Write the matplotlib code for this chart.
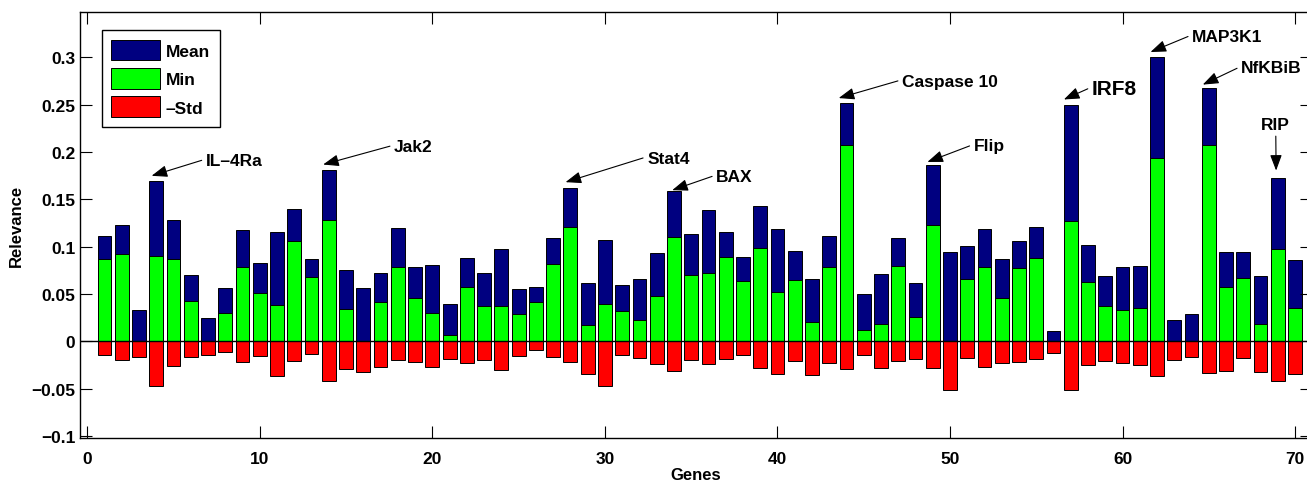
import numpy as np
import matplotlib
matplotlib.use('Agg')
import matplotlib.pyplot as plt
from matplotlib.ticker import FuncFormatter

# relevance per gene
genes = np.arange(1, 71)
mean_rel = [0.1116, 0.1232, 0.0331, 0.1687, 0.1278, 0.0701, 0.0246, 0.0563, 0.1173, 0.0831,
            0.1158, 0.1401, 0.0873, 0.1806, 0.0754, 0.0563, 0.0725, 0.1200, 0.0789, 0.0806,
            0.0394, 0.0884, 0.0722, 0.0979, 0.0553, 0.0577, 0.1088, 0.1613, 0.0616, 0.1074,
            0.0595, 0.0658, 0.0937, 0.1585, 0.1137, 0.1391, 0.1158, 0.0894, 0.1433, 0.1183,
            0.0958, 0.0662, 0.1116, 0.2518, 0.0500, 0.0711, 0.1095, 0.0616, 0.1863, 0.0944,
            0.1011, 0.1183, 0.0873, 0.1063, 0.1211, 0.0109, 0.2493, 0.1021, 0.0694, 0.0789,
            0.0799, 0.3004, 0.0225, 0.0292, 0.2676, 0.0944, 0.0944, 0.0694, 0.1722, 0.0863]
min_rel = [0.0870, 0.0919, 0.0, 0.0901, 0.0870, 0.0423, 0.0, 0.0299, 0.0785, 0.0507,
           0.0380, 0.1060, 0.0680, 0.1285, 0.0345, 0.0, 0.0412, 0.0785, 0.0454, 0.0296,
           0.0070, 0.0570, 0.0370, 0.0370, 0.0285, 0.0412, 0.0817, 0.1208, 0.0176, 0.0391,
           0.0317, 0.0222, 0.0475, 0.1102, 0.0697, 0.0718, 0.0891, 0.0634, 0.0986, 0.0518,
           0.0644, 0.0201, 0.0785, 0.2070, 0.0123, 0.0180, 0.0796, 0.0254, 0.1229, 0.0,
           0.0655, 0.0785, 0.0454, 0.0775, 0.0880, 0.0, 0.1271, 0.0623, 0.0370, 0.0327,
           0.0356, 0.1930, 0.0, 0.0, 0.2070, 0.0570, 0.0665, 0.0180, 0.0975, 0.0349]
std_rel = [0.0148, 0.0201, 0.0169, 0.0475, 0.0264, 0.0169, 0.0148, 0.0116, 0.0222, 0.0158,
           0.0370, 0.0211, 0.0137, 0.0423, 0.0296, 0.0327, 0.0275, 0.0201, 0.0222, 0.0275,
           0.0190, 0.0232, 0.0201, 0.0306, 0.0158, 0.0095, 0.0169, 0.0222, 0.0349, 0.0475,
           0.0148, 0.0180, 0.0243, 0.0317, 0.0201, 0.0243, 0.0190, 0.0148, 0.0285, 0.0349,
           0.0211, 0.0359, 0.0232, 0.0296, 0.0148, 0.0285, 0.0211, 0.0190, 0.0285, 0.0518,
           0.0180, 0.0275, 0.0232, 0.0222, 0.0190, 0.0127, 0.0518, 0.0254, 0.0211, 0.0232,
           0.0254, 0.0370, 0.0201, 0.0169, 0.0338, 0.0317, 0.0180, 0.0327, 0.0423, 0.0349]

series_names = ['Mean', 'Min', '\u2013Std']

marked_genes = [4, 14, 28, 34, 44, 49, 57, 62, 65, 69]
marked_names = ['IL\u20134Ra', 'Jak2', 'Stat4', 'BAX', 'Caspase 10', 'Flip', 'IRF8',
                'MAP3K1', 'NfKBiB', 'RIP']

# label placement (data coords) and arrow tip offsets from the bar top
text_pos = [(6.87, 0.1908), (17.78, 0.2056), (32.45, 0.1933), (36.45, 0.174),
            (47.22, 0.2746), (51.37, 0.2063), (58.22, 0.2665), (64.03, 0.322),
            (66.87, 0.2887), (68.88, 0.2289)]
tip_off = [(-0.27, 0.006), (-0.33, 0.006), (-0.28, 0.0067), (-0.1, 0.001),
           (-0.45, 0.005), (-0.31, 0.003), (-0.4, 0.006), (-0.38, 0.005),
           (-0.35, 0.0034), (-0.1, 0.008)]


def main():
    plt.rcParams['font.family'] = ['Liberation Sans', 'DejaVu Sans']
    plt.rcParams['font.weight'] = 'bold'
    plt.rcParams['axes.labelweight'] = 'bold'

    fig = plt.figure(figsize=(13.07, 4.85), dpi=100)
    ax = fig.add_axes([80 / 1307, 45.7 / 485, 1232 / 1307, 426.6 / 485])

    kw = dict(width=0.8, edgecolor='black', linewidth=0.7)
    ax.bar(genes, mean_rel, color='#000080', label=series_names[0], **kw)
    ax.bar(genes, min_rel, color='#00ff00', label=series_names[1], **kw)
    ax.bar(genes, -np.array(std_rel), color='#ff0000', label=series_names[2], **kw)
    ax.axhline(0, color='black', linewidth=1.0)

    ax.set_xlim(-0.42, 70.98)
    ax.set_ylim(-0.1025, 0.348)
    ax.set_xticks(np.arange(0, 71, 10))
    ax.set_yticks(np.arange(-0.1, 0.31, 0.05))
    ax.yaxis.set_major_formatter(FuncFormatter(
        lambda v, p: ('%g' % round(v, 3)).replace('-', '\u2212')))
    ax.tick_params(direction='in', length=8.4, width=0.8, top=True, right=True,
                   labelsize=12.5)
    ax.tick_params(axis='x', pad=9)
    ax.tick_params(axis='y', pad=3.5)
    for s in ax.spines.values():
        s.set_linewidth(1.0)

    ax.set_xlabel('Genes', fontsize=12, labelpad=1)
    ax.set_ylabel('Relevance', fontsize=12, labelpad=5)

    for g, name, (tx, ty), (dx, dy) in zip(marked_genes, marked_names, text_pos, tip_off):
        top = mean_rel[g - 1]
        if name == 'RIP':
            ha, rel = 'center', (0.5, 0.0)
        else:
            ha, rel = 'left', (0.0, 0.6)
        ax.annotate(name, xy=(g + dx, top + dy), xytext=(tx, ty),
                    ha=ha, va='center', fontsize=15 if name == 'IRF8' else 12.5,
                    fontweight='bold',
                    arrowprops=dict(arrowstyle='-|>,head_length=0.8,head_width=0.3',
                                    color='black', lw=0.8, shrinkA=1, shrinkB=0,
                                    mutation_scale=12, relpos=rel))

    leg = ax.legend(loc='upper left', bbox_to_anchor=(0.0176, 0.957), borderaxespad=0,
                    fontsize=12.5, handlelength=2.8, handleheight=1.45,
                    handletextpad=0.35, labelspacing=0.45, borderpad=0.55,
                    fancybox=False, framealpha=1)
    leg.get_frame().set_edgecolor('black')
    leg.get_frame().set_linewidth(1.0)

    fig.savefig('out.png', dpi=100)


if __name__ == '__main__':
    main()
